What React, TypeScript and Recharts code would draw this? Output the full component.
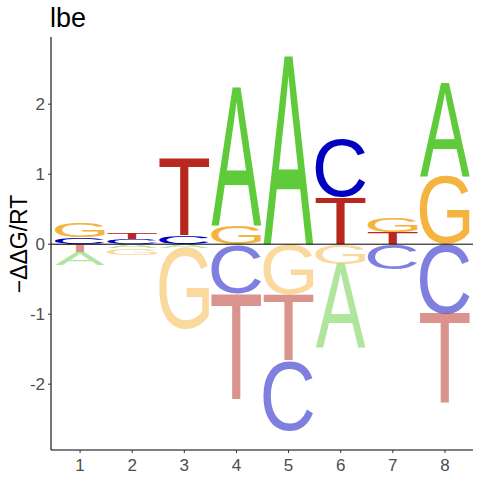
import React from 'react';
import { ComposedChart, Bar, XAxis, YAxis, ReferenceLine } from 'recharts';

const positions = ['1', '2', '3', '4', '5', '6', '7', '8'];
const letters = ['A', 'C', 'G', 'T'];
const valuesA = [-0.19, -0.06, -0.05, 1.97, 2.69, -1.2, 0, 1.33];
const valuesC = [0.1, 0.08, 0.12, -0.7, -1.0, 0.82, -0.36, -0.99];
const valuesG = [0.2, -0.09, -1.16, 0.27, -0.72, -0.28, 0.21, 0.97];
const valuesT = [-0.11, 0.09, 1.11, -1.53, -0.95, 0.67, 0.17, -1.3];
const yTicks = [-2, -1, 0, 1, 2];

const letterColors: Record<string, string> = {
  A: '#5FCB3B',
  C: '#0000C0',
  G: '#F5B43F',
  T: '#B8281E',
};

const seriesByLetter: Record<string, number[]> = {
  A: valuesA,
  C: valuesC,
  G: valuesG,
  T: valuesT,
};

const rows = positions.map((p, i) => {
  const items = letters
    .map((l) => ({ l, v: seriesByLetter[l][i] }))
    .sort((a, b) => Math.abs(a.v) - Math.abs(b.v));
  const row: any = { pos: p };
  items.forEach((it, k) => {
    row['v' + k] = it.v;
    row['l' + k] = it.l;
  });
  return row;
});

const LETTER_FONT = '"Liberation Sans", Arial, sans-serif';
const TEXT_FONT = '"Liberation Sans", Arial, sans-serif';

const fallbackMetrics: Record<string, any> = {
  A: { left: 0.15, right: 66.8, ascent: 71.6, descent: 0 },
  C: { left: -5, right: 67.5, ascent: 72.8, descent: 1.2 },
  G: { left: -5.4, right: 72.2, ascent: 72.8, descent: 1.2 },
  T: { left: -2.3, right: 58.8, ascent: 71.6, descent: 0 },
};
const metricsCache: Record<string, any> = {};
function glyphMetrics(ch: string) {
  if (metricsCache[ch]) return metricsCache[ch];
  let m = fallbackMetrics[ch];
  try {
    const ctx = document.createElement('canvas').getContext('2d');
    if (ctx) {
      ctx.font = `100px ${LETTER_FONT}`;
      const t = ctx.measureText(ch);
      if (t.actualBoundingBoxAscent > 0) {
        m = {
          left: t.actualBoundingBoxLeft,
          right: t.actualBoundingBoxRight,
          ascent: t.actualBoundingBoxAscent,
          descent: t.actualBoundingBoxDescent,
        };
      }
    }
  } catch (e) {
    // keep fallback
  }
  metricsCache[ch] = m;
  return m;
}

const makeLetterShape = (rank: number) => (props: any) => {
  const { x, y, width, height, payload } = props;
  const ch = payload ? payload['l' + rank] : undefined;
  const v = payload ? payload['v' + rank] : 0;
  if (!ch || height == null || isNaN(height)) return <g />;
  const top = Math.min(y, y + height);
  const h = Math.abs(height);
  if (h < 0.2) return <g />;
  const m = glyphMetrics(ch);
  const sx = width / (m.left + m.right);
  const sy = h / (m.ascent + m.descent);
  return (
    <text
      transform={`translate(${x},${top}) scale(${sx},${sy}) translate(${m.left},${m.ascent})`}
      x={0}
      y={0}
      fontSize={100}
      fontFamily={LETTER_FONT}
      fill={letterColors[ch]}
      fillOpacity={v < 0 ? 0.5 : 1}
    >
      {ch}
    </text>
  );
};

export default function App() {
  return (
    <div style={{ position: 'absolute', left: 0, top: 0, width: 480, height: 480, background: '#fff' }}>
      <ComposedChart
        width={480}
        height={480}
        data={rows}
        stackOffset="sign"
        margin={{ top: 37, right: 7, bottom: 0, left: 0 }}
      >
        <XAxis
          dataKey="pos"
          height={30}
          padding={{ left: 3, right: 2 }}
          tickSize={3}
          tickMargin={6}
          interval={0}
          axisLine={{ stroke: '#000', strokeWidth: 1.1 }}
          tickLine={{ stroke: '#333' }}
          tick={{ fill: '#4D4D4D', fontSize: 17, fontFamily: TEXT_FONT }}
        />
        <YAxis
          type="number"
          domain={[-2.94, 2.96]}
          ticks={yTicks}
          width={51}
          tickSize={3}
          tickMargin={3}
          allowDataOverflow
          axisLine={{ stroke: '#000', strokeWidth: 1.1 }}
          tickLine={{ stroke: '#333' }}
          tick={{ fill: '#4D4D4D', fontSize: 17, fontFamily: TEXT_FONT }}
        />
        {[0, 1, 2, 3].map((k) => (
          <Bar
            key={k}
            dataKey={'v' + k}
            stackId="s"
            barSize={50}
            shape={makeLetterShape(k)}
            isAnimationActive={false}
          />
        ))}
        <ReferenceLine y={0} stroke="#000" strokeWidth={1} />
      </ComposedChart>
      <svg
        width={480}
        height={480}
        style={{ position: 'absolute', left: 0, top: 0, pointerEvents: 'none' }}
      >
        <text x={50} y={27} fontSize={27} fontFamily={TEXT_FONT} fill="#000">
          lbe
        </text>
        <text
          x={0}
          y={0}
          transform="translate(27,244) rotate(-90)"
          textAnchor="middle"
          fontSize={23}
          fontFamily={TEXT_FONT}
          fill="#000"
        >
          −ΔΔG/RT
        </text>
      </svg>
    </div>
  );
}
